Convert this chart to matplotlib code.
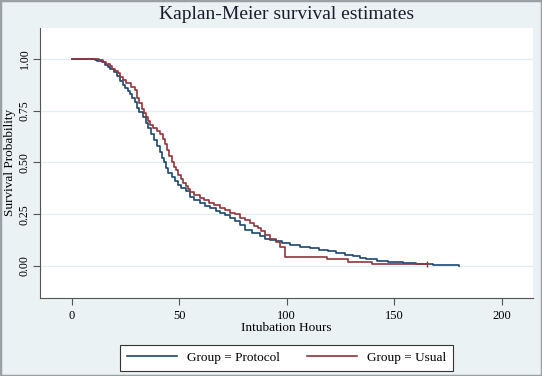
import matplotlib
matplotlib.use('Agg')
import matplotlib.pyplot as plt
from matplotlib.patches import Rectangle

plt.rcParams['font.family'] = ['Liberation Serif', 'DejaVu Serif']

# Kaplan-Meier step points: (hours, survival)
protocol_t = [0, 11, 12, 14, 15.5, 17, 18, 19.5, 21, 22.5, 24, 25, 26, 27, 28,
              29.5, 30.5, 31.5, 33, 34.5, 35.5, 37, 38.5, 39.5, 41, 42, 43, 44,
              45, 46.5, 48, 49.5, 51, 53, 55, 57, 59.5, 62, 64.5, 67, 69,
              71.5, 73.5, 76, 78.5, 80.7, 84, 87.5, 90, 92, 95, 98, 101.5,
              106, 111, 115, 119, 123, 127, 131, 134, 137, 142, 147, 154, 160,
              168, 174, 180]
protocol_s = [1.0, 0.995, 0.99, 0.985, 0.973, 0.96, 0.95, 0.935, 0.92, 0.895,
              0.875, 0.86, 0.845, 0.83, 0.81, 0.79, 0.765, 0.745, 0.72, 0.69,
              0.665, 0.635, 0.61, 0.58, 0.55, 0.52, 0.50, 0.475, 0.45, 0.43,
              0.41, 0.39, 0.375, 0.36, 0.335, 0.32, 0.304, 0.29, 0.28, 0.266,
              0.256, 0.245, 0.232, 0.215, 0.198, 0.174, 0.16, 0.145, 0.132,
              0.126, 0.118, 0.11, 0.101, 0.093, 0.085, 0.077, 0.07, 0.063,
              0.055, 0.048, 0.04, 0.034, 0.026, 0.02, 0.013, 0.01, 0.006,
              0.004, 0.002]

usual_t = [0, 12.7, 14.5, 16, 17.8, 19, 20, 21.5, 22.5, 24, 25.5, 27.5, 29.5,
           30.5, 31.5, 32.5, 33.5, 34.5, 35.5, 36.5, 38, 39.5, 41, 42.5, 43.5,
           44.5, 45.5, 46.5, 47.5, 48.5, 49.5, 51, 52, 53, 54, 55, 57, 59.5,
           61.5, 64, 66, 69, 71.5, 73.5, 76, 78.5, 80.5, 83, 85, 86.5, 88, 90,
           92, 95, 97, 99, 118.5, 128.5, 139.5, 165]
usual_s = [1.0, 0.993, 0.985, 0.975, 0.965, 0.95, 0.94, 0.93, 0.915, 0.90,
           0.885, 0.865, 0.85, 0.81, 0.785, 0.76, 0.74, 0.72, 0.70, 0.68,
           0.665, 0.65, 0.635, 0.615, 0.59, 0.56, 0.53, 0.50, 0.48, 0.465,
           0.44, 0.42, 0.40, 0.385, 0.37, 0.355, 0.345, 0.33, 0.32, 0.305,
           0.293, 0.282, 0.27, 0.256, 0.25, 0.232, 0.22, 0.208, 0.195, 0.184,
           0.17, 0.15, 0.128, 0.115, 0.093, 0.045, 0.032, 0.021, 0.01, 0.01]

x_ticks = [0, 50, 100, 150, 200]
y_ticks = [0.0, 0.25, 0.5, 0.75, 1.0]
y_ticklabels = ['0.00', '0.25', '0.50', '0.75', '1.00']

bg = '#eaf2f3'
blue = '#1a476f'
red = '#90353b'
txt = '#1c1c2e'

fig = plt.figure(figsize=(5.42, 3.76), dpi=100, facecolor=bg)
ax = fig.add_axes([40 / 542, 1 - 298 / 376, 493 / 542, 270.3 / 376])
ax.set_facecolor('white')

ax.plot(protocol_t, protocol_s, drawstyle='steps-post', color=blue, lw=1.2,
        label='Group = Protocol')
ax.plot(usual_t, usual_s, drawstyle='steps-post', color=red, lw=1.2,
        label='Group = Usual')
# censor tick at the end of the usual curve
ax.plot([usual_t[-1]], [usual_s[-1]], marker='|', color=red, ms=4, mew=1)

ax.set_xlim(-14.7, 214.5)
ax.set_ylim(-0.155, 1.151)
ax.set_xticks(x_ticks)
ax.set_yticks(y_ticks)
ax.set_yticklabels(y_ticklabels, rotation=90, va='center')
ax.grid(axis='y', color='#e4eef0', lw=0.9)
ax.set_axisbelow(True)

for side in ['top', 'right']:
    ax.spines[side].set_visible(False)
for side in ['left', 'bottom']:
    ax.spines[side].set_color('#555555')
    ax.spines[side].set_linewidth(0.8)
ax.tick_params(colors='#555555', labelcolor='black', length=5, width=0.8,
               labelsize=9)
ax.tick_params(axis='y', pad=1.5, labelsize=8.5)

ax.set_xlabel('Intubation Hours', fontsize=9.5, labelpad=0)
ax.set_ylabel('Survival Probability', fontsize=9.5, labelpad=2)
fig.text(0.529, 1 - 14.5 / 376, 'Kaplan-Meier survival estimates',
         ha='center', va='center', fontsize=14, color=txt)

leg = fig.legend(loc='center', bbox_to_anchor=(286.6 / 542, 1 - 357.8 / 376),
                 ncol=2, fontsize=9.5, handlelength=3.8, columnspacing=2.0,
                 fancybox=False, edgecolor='#333333', framealpha=1,
                 borderpad=0.5)
leg.get_frame().set_linewidth(0.8)

# outer grey frame of the graph region
fig.patches.append(Rectangle((0, 0), 1, 1, transform=fig.transFigure,
                             fill=False, edgecolor='#9aa0a4', lw=2.5))

fig.savefig('out.png', dpi=100, facecolor=bg)
